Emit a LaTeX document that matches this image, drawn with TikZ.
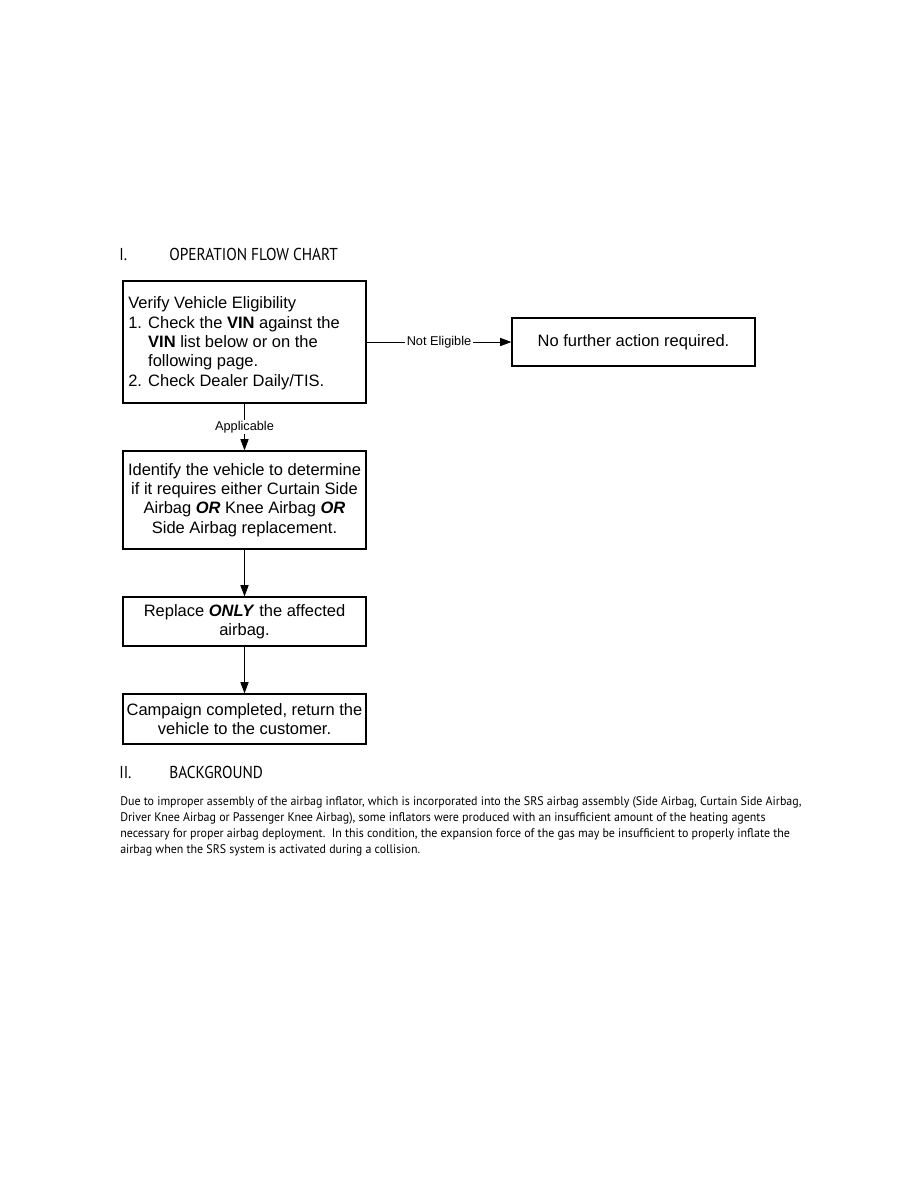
\documentclass[tikz,border=0pt]{standalone}
\usepackage{fontspec}
\setmainfont{Liberation Sans}
\newfontfamily\headfont[FakeStretch=0.89]{PT Sans}
\newfontfamily\bodyfont[FakeStretch=0.96]{PT Sans}
\usetikzlibrary{arrows.meta}
\begin{document}
\begin{tikzpicture}[x=0.66667pt,y=-0.66667pt,
  box/.style={draw,line width=0.9pt,inner sep=0pt},
  conn/.style={line width=0.5pt,-{Triangle[length=7.5pt,width=5.5pt]}},
  lbl/.style={fill=white,inner sep=1pt,font=\fontsize{8.5}{10}\selectfont},
  boxtext/.style={font=\fontsize{11}{12.9}\selectfont},
  head/.style={anchor=base west,font=\headfont\fontsize{11.5}{13}\selectfont,inner sep=0}]
\useasboundingbox (0,0) rectangle (918,1188);
% headings
\node[head] (h1n) at (119,260) {I.};
\node[head] (h1) at (169,260) {OPERATION FLOW CHART};
\node[head] (h2n) at (119,778) {II.};
\node[head] (h2) at (169,778) {BACKGROUND};
% boxes
\node[box,minimum width=243*0.66667pt,minimum height=122*0.66667pt] (b1) at (244.5,342) {};
\node[boxtext,anchor=north west,align=left,inner sep=0] (t1) at (128,296.5) {Verify Vehicle Eligibility\\1. Check the \textbf{VIN} against the\\\phantom{1. }\textbf{VIN} list below or on the\\\phantom{1. }following page.\\2. Check Dealer Daily/TIS.};
\node[box,boxtext,minimum width=243*0.66667pt,minimum height=48*0.66667pt] (nf) at (633.5,342) {No further action required.};
\node[box,boxtext,align=center,minimum width=243*0.66667pt,minimum height=98*0.66667pt] (b2) at (244.5,500) {Identify the vehicle to determine\\if it requires either Curtain Side\\Airbag \textbf{\textit{OR}} Knee Airbag \textbf{\textit{OR}}\\Side Airbag replacement.};
\node[box,boxtext,align=center,minimum width=243*0.66667pt,minimum height=49*0.66667pt] (b3) at (244.5,621.5) {Replace \textbf{\textit{ONLY}} the affected\\airbag.};
\node[box,boxtext,align=center,minimum width=243*0.66667pt,minimum height=50*0.66667pt] (b4) at (244.5,719) {Campaign completed, return the\\vehicle to the customer.};
% connectors
\draw[conn] (b1.east |- nf.west) -- node[lbl] {Not Eligible} (nf.west);
\draw[conn] (b1.south) -- node[lbl,pos=0.5] {Applicable} (b2.north);
\draw[conn] (b2.south) -- (b3.north);
\draw[conn] (b3.south) -- (b4.north);
% background paragraph
\node[anchor=north west,align=left,inner sep=0,font=\bodyfont\fontsize{8.3}{10.67}\selectfont] (bg) at (120,796) {Due to improper assembly of the airbag inflator, which is incorporated into the SRS airbag assembly (Side Airbag, Curtain Side Airbag,\\Driver Knee Airbag or Passenger Knee Airbag), some inflators were produced with an insufficient amount of the heating agents\\necessary for proper airbag deployment.\ \ In this condition, the expansion force of the gas may be insufficient to properly inflate the\\airbag when the SRS system is activated during a collision.};
\end{tikzpicture}
\end{document}
